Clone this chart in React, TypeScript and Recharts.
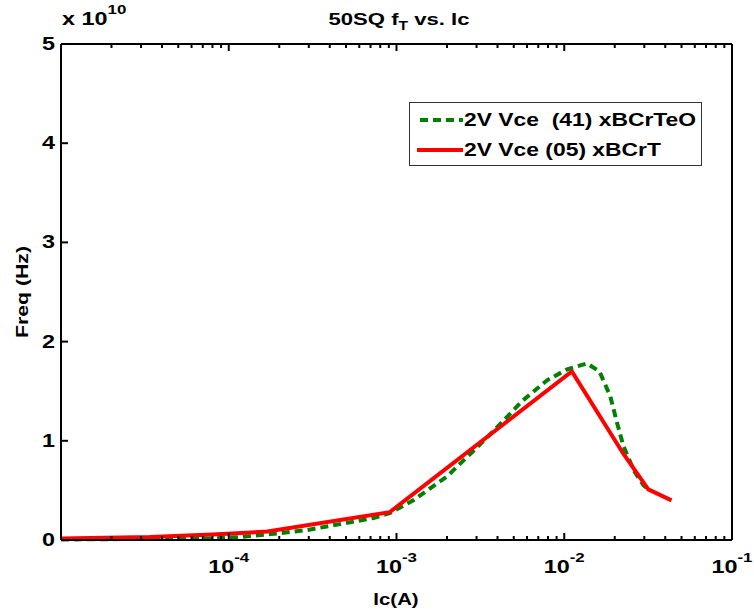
import { Line, LineChart, XAxis, YAxis } from 'recharts';

// Ic (A) and fT (in units of 1e10 Hz)
const redIc = [1e-5, 3.4e-5, 8e-5, 1.7e-4, 9.1e-4, 1.11e-2, 2.25e-2, 3.17e-2, 4.36e-2];
const redFreq = [0.015, 0.03, 0.055, 0.085, 0.28, 1.7, 0.87, 0.51, 0.4];

const greenIc = [
  1e-5, 8e-5, 1.17e-4, 1.94e-4, 2.92e-4, 4.6e-4, 7.2e-4, 9.1e-4, 1.26e-3, 2.0e-3, 2.8e-3,
  3.9e-3, 5.6e-3, 7.9e-3, 1.04e-2, 1.37e-2, 1.62e-2, 1.88e-2, 2.05e-2, 2.25e-2, 2.6e-2,
  2.97e-2, 3.24e-2,
];
const greenFreq = [
  0.005, 0.015, 0.03, 0.065, 0.1, 0.16, 0.22, 0.27, 0.4, 0.64, 0.88,
  1.12, 1.4, 1.61, 1.72, 1.78, 1.7, 1.45, 1.2, 0.95, 0.7,
  0.55, 0.5,
];

const yTicks = [0, 1, 2, 3, 4, 5];
const decades = [-5, -4, -3, -2];
const mults = [1, 2, 3, 4, 5, 6, 7, 8, 9];
const xTicks = [...decades.flatMap((d) => mults.map((m) => m * Math.pow(10, d))).slice(1), 1e-1];

const redData = redIc.map((ic, i) => ({ ic, f: redFreq[i] }));
const greenData = greenIc.map((ic, i) => ({ ic, f: greenFreq[i] }));

const FONT = '"Liberation Sans", Arial, sans-serif';
const RED = '#ff0000';
const GREEN = '#008000';
const SX = 1.3; // the original's bold font runs wider than Arial

function isMajor(v: number) {
  const e = Math.round(Math.log10(v));
  return Math.abs(v - Math.pow(10, e)) < v * 1e-6;
}

function BottomTick({ x, y, payload }: any) {
  const v = payload.value;
  const major = isMajor(v);
  const e = Math.round(Math.log10(v));
  return (
    <g>
      <line x1={x} x2={x} y1={y} y2={y - (major ? 7 : 4)} stroke="#000" strokeWidth={2} />
      {major && (
        <text transform={`translate(${x},${y + 33}) scale(${SX},1)`} textAnchor="middle" fontFamily={FONT} fontWeight="bold" fontSize={18} fill="#000">
          <tspan>10</tspan>
          <tspan dy={-11} fontSize={13}>{e}</tspan>
        </text>
      )}
    </g>
  );
}

function TopTick({ x, y, payload }: any) {
  const major = isMajor(payload.value);
  return <line x1={x} x2={x} y1={y} y2={y + (major ? 7 : 4)} stroke="#000" strokeWidth={2} />;
}

function LeftTick({ x, y, payload }: any) {
  return (
    <g>
      {payload.value > 0 && payload.value < 5 && (
        <line x1={x} x2={x + 7} y1={y} y2={y} stroke="#000" strokeWidth={2} />
      )}
      <text transform={`translate(${x - 6},${y + 6}) scale(${SX},1)`} textAnchor="end" fontFamily={FONT} fontWeight="bold" fontSize={18} fill="#000">
        {payload.value}
      </text>
    </g>
  );
}

function RightTick({ x, y, payload }: any) {
  if (payload.value <= 0 || payload.value >= 5) return <g />;
  return <line x1={x} x2={x - 7} y1={y} y2={y} stroke="#000" strokeWidth={2} />;
}

function LegendBox() {
  const row = { display: 'flex', alignItems: 'center', height: 30 } as const;
  const txt = {
    fontFamily: FONT, fontWeight: 'bold', fontSize: 18, color: '#000', whiteSpace: 'pre',
    display: 'inline-block', transform: 'scaleX(1.27)', transformOrigin: 'left center',
  } as const;
  return (
    <div style={{ position: 'absolute', left: 409, top: 102, boxSizing: 'border-box', width: 293, height: 64, border: '1px solid #333', background: '#fff', padding: '2px 0 0 7px' }}>
      <div style={row}>
        <svg width={47} height={10}>
          <line x1={3} x2={46} y1={5} y2={5} stroke={GREEN} strokeWidth={4} strokeDasharray="8 5" />
        </svg>
        <span style={txt}>2V Vce  (41) xBCrTeO</span>
      </div>
      <div style={row}>
        <svg width={47} height={10}>
          <line x1={0} x2={46} y1={5} y2={5} stroke={RED} strokeWidth={4} />
        </svg>
        <span style={txt}>2V Vce (05) xBCrT</span>
      </div>
    </div>
  );
}

export default function App() {
  return (
    <div style={{ position: 'absolute', left: 0, top: 0, width: 754, height: 612, background: '#fff' }}>
      <LineChart width={754} height={612} margin={{ top: 43, right: 21, bottom: 42, left: 21 }}>
        <XAxis
          dataKey="ic" type="number" scale="log" domain={[1e-5, 1e-1]} allowDataOverflow
          ticks={xTicks} interval={0} tick={<BottomTick />} tickLine={false} tickSize={0} tickMargin={0}
          height={30} axisLine={{ stroke: '#000', strokeWidth: 2 }}
        />
        <XAxis
          xAxisId="top" orientation="top" dataKey="ic" type="number" scale="log" domain={[1e-5, 1e-1]} allowDataOverflow
          ticks={xTicks} interval={0} tick={<TopTick />} tickLine={false} tickSize={0} tickMargin={0}
          height={1} axisLine={{ stroke: '#000', strokeWidth: 2 }}
        />
        <YAxis
          type="number" domain={[0, 5]} ticks={yTicks} interval={0} tick={<LeftTick />}
          tickLine={false} tickSize={0} tickMargin={0} width={40} axisLine={{ stroke: '#000', strokeWidth: 2 }}
        />
        <YAxis
          yAxisId="r" orientation="right" type="number" domain={[0, 5]} ticks={yTicks} interval={0} tick={<RightTick />}
          tickLine={false} tickSize={0} tickMargin={0} width={1} axisLine={{ stroke: '#000', strokeWidth: 2 }}
        />
        <Line data={greenData} dataKey="f" stroke={GREEN} strokeWidth={4} strokeDasharray="8 5" dot={false} isAnimationActive={false} />
        <Line data={redData} dataKey="f" stroke={RED} strokeWidth={4} dot={false} isAnimationActive={false} />
      </LineChart>
      <LegendBox />
      <svg width={754} height={612} style={{ position: 'absolute', left: 0, top: 0, pointerEvents: 'none' }}>
        <text transform={`translate(399,25) scale(${SX},1)`} textAnchor="middle" fontFamily={FONT} fontWeight="bold" fontSize={17}>
          <tspan>50SQ f</tspan>
          <tspan dy={5} fontSize={12}>T</tspan>
          <tspan dy={-5}> vs. Ic</tspan>
        </text>
        <text transform={`translate(62,25) scale(${SX},1)`} fontFamily={FONT} fontWeight="bold" fontSize={18}>
          <tspan>x 10</tspan>
          <tspan dy={-11} fontSize={13}>10</tspan>
        </text>
        <text transform={`translate(28,292) rotate(-90) scale(1.25,1)`} textAnchor="middle" fontFamily={FONT} fontWeight="bold" fontSize={17}>
          Freq (Hz)
        </text>
        <text transform={`translate(396,605) scale(1.2,1)`} textAnchor="middle" fontFamily={FONT} fontWeight="bold" fontSize={17}>
          Ic(A)
        </text>
      </svg>
    </div>
  );
}
